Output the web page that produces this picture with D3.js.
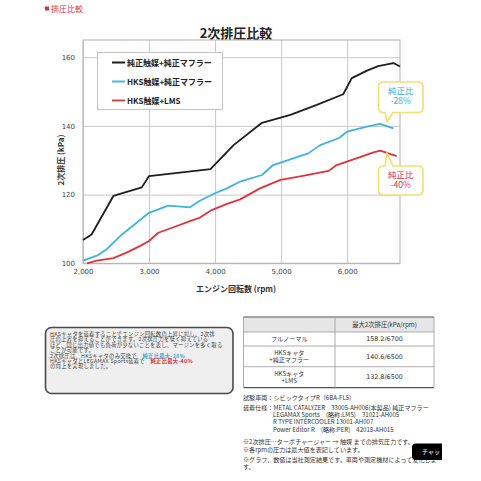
<!DOCTYPE html>
<html>
<head>
<meta charset="utf-8">
<script src="https://cdn.jsdelivr.net/npm/d3@7"></script>
<style>
  body { margin: 0; background: #fff; }
  svg { display: block; font-family: "Noto Sans CJK JP", "Noto Sans", sans-serif; }
  .tick text { font-family: "DejaVu Sans", sans-serif; font-size: 7px; fill: #444; }
</style>
</head>
<body>
<svg width="481" height="481"></svg>
<script>
// series: rpm / kPa
const stockRpm = [2000, 2130, 2460, 2890, 3000, 3930, 4280, 4710, 5140, 5540, 5940, 6070, 6300, 6470, 6700, 6800]
const stockKpa = [106.8, 108.4, 119.6, 122.1, 125.4, 127.4, 134.4, 140.9, 143.2, 146.1, 149.2, 153.9, 156.1, 157.4, 158.3, 157.3]

const hksRpm = [2000, 2230, 2360, 2590, 3000, 3290, 3620, 3770, 4000, 4180, 4380, 4710, 4880, 5410, 5590, 5870, 6000, 6300, 6500, 6700]
const hksKpa = [100.8, 102.4, 104.1, 108.4, 114.7, 116.8, 116.3, 118.2, 120.4, 121.8, 123.8, 125.7, 128.6, 132.0, 134.4, 136.4, 138.3, 139.8, 140.6, 139.3]

const lmsRpm = [2060, 2210, 2460, 2660, 2860, 3000, 3140, 3370, 3620, 3770, 3950, 4180, 4380, 4680, 4990, 5310, 5720, 5840, 6150, 6400, 6500, 6750]
const lmsKpa = [100.0, 100.8, 101.5, 103.1, 105.0, 106.5, 108.9, 110.5, 112.3, 113.3, 115.5, 117.3, 118.6, 121.8, 124.3, 125.4, 126.9, 128.6, 130.6, 132.3, 132.8, 131.2]

const seriesNames = ["純正触媒+純正マフラー", "HKS触媒+純正マフラー", "HKS触媒+LMS"]
const xTicks = [2000, 3000, 4000, 5000, 6000]
const yTicks = [100, 120, 140, 160]

const tableHeader = "最大2次排圧(kPa/rpm)"
const tableRows = [
  [["フルノーマル"], "158.2/6700"],
  [["HKSキャタ", "+純正マフラー"], "140.6/6500"],
  [["HKSキャタ", "+LMS"], "132.8/6500"]
]

const svg = d3.select('svg')

svg.append("rect").attr("width", 481).attr("height", 481).attr("fill", "#fff")

// page heading
svg.append("rect").attr("x", 45).attr("y", 6.5).attr("width", 4).attr("height", 4).attr("fill", "#d9343a")
svg.append("text")
  .attr("x", 51).attr("y", 11.5)
  .attr("font-size", 8).attr("fill", "#d9343a")
  .text("排圧比較")

const scaleX = d3.scaleLinear().domain([2000, 6800]).range([83, 400])
const scaleY = d3.scaleLinear().domain([100, 165]).range([263.3, 40])

// title
svg.append("text")
  .attr("x", 236).attr("y", 37.5)
  .attr("text-anchor", "middle")
  .attr("font-size", 13).attr("font-weight", 700).attr("fill", "#222")
  .text("2次排圧比較")

// grid + axes
const axisX = d3.axisBottom(scaleX)
  .tickValues(xTicks)
  .tickSizeInner(-(263.3 - 40))
  .tickSizeOuter(0)
  .tickPadding(6)
  .tickFormat(d3.format(","))

const axisY = d3.axisLeft(scaleY)
  .tickValues(yTicks)
  .tickSizeInner(-(400 - 83))
  .tickSizeOuter(0)
  .tickPadding(6)

const gx = svg.append("g").attr("transform", "translate(0, 263.3)").call(axisX)
const gy = svg.append("g").attr("transform", "translate(83, 0)").call(axisY)

gx.select(".domain").remove()
gy.select(".domain").remove()
gx.selectAll(".tick line").attr("stroke", "#c8c8c8")
gy.selectAll(".tick line").attr("stroke", "#c8c8c8")
gy.selectAll(".tick text").attr("dx", -2)

// plot frame
svg.append("rect")
  .attr("x", 83).attr("y", 40)
  .attr("width", 400 - 83).attr("height", 263.3 - 40)
  .attr("fill", "none").attr("stroke", "#b0b0b0")

// axis titles
svg.append("text")
  .attr("transform", "translate(64, 160) rotate(-90)")
  .attr("text-anchor", "middle")
  .attr("font-size", 8).attr("font-weight", 700).attr("fill", "#333")
  .text("2次排圧 (kPa)")

svg.append("text")
  .attr("x", 236).attr("y", 292)
  .attr("text-anchor", "middle")
  .attr("font-size", 8).attr("font-weight", 700).attr("fill", "#333")
  .text("エンジン回転数 (rpm)")

// lines
const line = d3.line()
  .x(d => scaleX(d[0]))
  .y(d => scaleY(d[1]))

const series = [
  { rpm: stockRpm, kpa: stockKpa, color: "#1e1e1e" },
  { rpm: hksRpm, kpa: hksKpa, color: "#3fb3e0" },
  { rpm: lmsRpm, kpa: lmsKpa, color: "#e0323c" }
]

series.forEach(s => {
  svg.append("path")
    .datum(s.rpm.map((r, i) => [r, s.kpa[i]]))
    .attr("d", line)
    .attr("fill", "none")
    .attr("stroke", s.color)
    .attr("stroke-width", 1.8)
    .attr("stroke-linejoin", "round")
})

// legend
const legend = svg.append("g")
legend.append("rect")
  .attr("x", 97.5).attr("y", 52.5)
  .attr("width", 125).attr("height", 57)
  .attr("fill", "#fff").attr("stroke", "#c4c4c4")

const legendColors = ["#1e1e1e", "#4cb8e0", "#c94a4a"]
seriesNames.forEach((name, i) => {
  const ly = 62.5 + i * 19
  legend.append("line")
    .attr("x1", 112).attr("x2", 125)
    .attr("y1", ly).attr("y2", ly)
    .attr("stroke", legendColors[i]).attr("stroke-width", 2)
  legend.append("text")
    .attr("x", 127).attr("y", ly + 3)
    .attr("font-size", 8).attr("font-weight", 700).attr("fill", "#222")
    .text(name)
})

// callouts
const callout = function(x, y, w, h, tipX, tipY, color, lines) {
  const r = 5
  const bx1 = tipX - 2, bx2 = tipX + 6
  let d
  if (tipY > y + h) {
    d = `M${x + r},${y} H${x + w - r} Q${x + w},${y} ${x + w},${y + r} V${y + h - r}
      Q${x + w},${y + h} ${x + w - r},${y + h} H${bx2} L${tipX},${tipY} L${bx1},${y + h}
      H${x + r} Q${x},${y + h} ${x},${y + h - r} V${y + r} Q${x},${y} ${x + r},${y} Z`
  } else {
    d = `M${x + r},${y} H${bx1} L${tipX},${tipY} L${bx2},${y} H${x + w - r} Q${x + w},${y} ${x + w},${y + r}
      V${y + h - r} Q${x + w},${y + h} ${x + w - r},${y + h} H${x + r} Q${x},${y + h} ${x},${y + h - r}
      V${y + r} Q${x},${y} ${x + r},${y} Z`
  }
  svg.append("path").attr("d", d)
    .attr("fill", "#fff").attr("stroke", "#f3e06a").attr("stroke-width", 1.6)
  lines.forEach((t, i) => {
    svg.append("text")
      .attr("x", x + w / 2).attr("y", y + 12 + i * 10)
      .attr("text-anchor", "middle")
      .attr("font-size", 8.5).attr("fill", color)
      .text(t)
  })
}

callout(378.5, 82, 44.5, 30.5, 387, 121.5, "#3fa9dc", ["純正比", "-28%"])
callout(378.5, 166, 44.5, 29, 387, 153.5, "#e0323c", ["純正比", "-40%"])

// description box
svg.append("rect")
  .attr("x", 45.5).attr("y", 327.5)
  .attr("width", 187.5).attr("height", 66)
  .attr("rx", 6)
  .attr("fill", "#efefef").attr("stroke", "#4a4a4a").attr("stroke-width", 1.6)

const descLines = [
  [["HKSキャタを装着することでエンジン回転数の上昇に対し、2次排", "#444", 400]],
  [["圧の上昇を抑えることができます。2次排圧力を低く抑えている", "#444", 400]],
  [["ほど、同じ出力値でも負荷が少ないことを表し、マージンを多く取る", "#444", 400]],
  [["ことが可能です。", "#444", 400]],
  [["2次排圧は、HKSキャタのみ交換で　", "#444", 400], ["純正比最大-28%", "#3fa9dc", 700]],
  [["HKSキャタとLEGAMAX Sports装着で　", "#444", 400], ["純正比最大-40%", "#e0323c", 700]],
  [["の向上を実現しました。", "#444", 400]]
]

descLines.forEach((parts, i) => {
  const t = svg.append("text")
    .attr("x", 50).attr("y", 336 + i * 5.4)
    .attr("font-size", 5.3)
    .attr("letter-spacing", 0.28)
  parts.forEach(p => {
    t.append("tspan").attr("fill", p[1]).attr("font-weight", p[2]).text(p[0])
  })
})

// spec table
const tx0 = 243.5, tx1 = 335, tx2 = 434
const rowY = [317, 332, 346, 366.7, 387.7]

svg.append("rect")
  .attr("x", tx0).attr("y", rowY[0])
  .attr("width", tx2 - tx0).attr("height", rowY[1] - rowY[0])
  .attr("fill", "#e6e6e6")

rowY.forEach((ry, i) => {
  const edge = i === 0 || i === rowY.length - 1
  svg.append("line")
    .attr("x1", tx0).attr("x2", tx2)
    .attr("y1", ry).attr("y2", ry)
    .attr("stroke", edge ? "#555" : "#999")
    .attr("stroke-width", edge ? 1.2 : 0.8)
})
;[tx0, tx1, tx2].forEach(cx => {
  svg.append("line")
    .attr("x1", cx).attr("x2", cx)
    .attr("y1", rowY[0]).attr("y2", rowY[rowY.length - 1])
    .attr("stroke", "#999").attr("stroke-width", 0.8)
})

svg.append("text")
  .attr("x", (tx1 + tx2) / 2).attr("y", (rowY[0] + rowY[1]) / 2 + 2.2)
  .attr("text-anchor", "middle").attr("font-size", 6.3).attr("fill", "#333")
  .text(tableHeader)

tableRows.forEach((row, i) => {
  const midY = (rowY[i + 1] + rowY[i + 2]) / 2
  const labels = row[0]
  labels.forEach((lab, j) => {
    svg.append("text")
      .attr("x", (tx0 + tx1) / 2)
      .attr("y", midY + 2.2 + (j - (labels.length - 1) / 2) * 7.5)
      .attr("text-anchor", "middle").attr("font-size", 6.1).attr("fill", "#333")
      .text(lab)
  })
  svg.append("text")
    .attr("x", (tx1 + tx2) / 2).attr("y", midY + 2.2)
    .attr("text-anchor", "middle").attr("font-size", 6.4).attr("fill", "#333")
    .attr("font-family", "DejaVu Sans, sans-serif")
    .text(row[1])
})

// notes
const notes = [
  [243, 400, "試験車両：シビックタイプR（6BA-FL5）"],
  [243, 410, "装着仕様：METAL CATALYZER　33005-AH006(本製品) 純正マフラー"],
  [273, 417, "LEGAMAX Sports　(略称:LMS)　31021-AH005"],
  [273, 424, "R TYPE INTERCOOLER 13001-AH007"],
  [273, 432, "Power Editor R　(略称:PER)　42018-AH015"],
  [243, 444, "※2次排圧…ターボチャージャー → 触媒 までの排気圧力です。"],
  [243, 452, "※各rpmの圧力は最大値を表記しています。"],
  [243, 462, "※グラフ、数値は当社測定結果です。車両や測定機材によって変化しま"],
  [243, 469, "す。"]
]
notes.forEach(n => {
  svg.append("text")
    .attr("x", n[0]).attr("y", n[1])
    .attr("font-size", 6.1).attr("fill", "#333")
    .text(n[2])
})

// chat button
svg.append("path")
  .attr("d", "M416,443.5 H442 V460 H416 Q412,460 412,456 V447.5 Q412,443.5 416,443.5 Z")
  .attr("fill", "#000")
svg.append("text")
  .attr("x", 422).attr("y", 454)
  .attr("font-size", 6).attr("fill", "#fff")
  .text("チャッ")
</script>
</body>
</html>
